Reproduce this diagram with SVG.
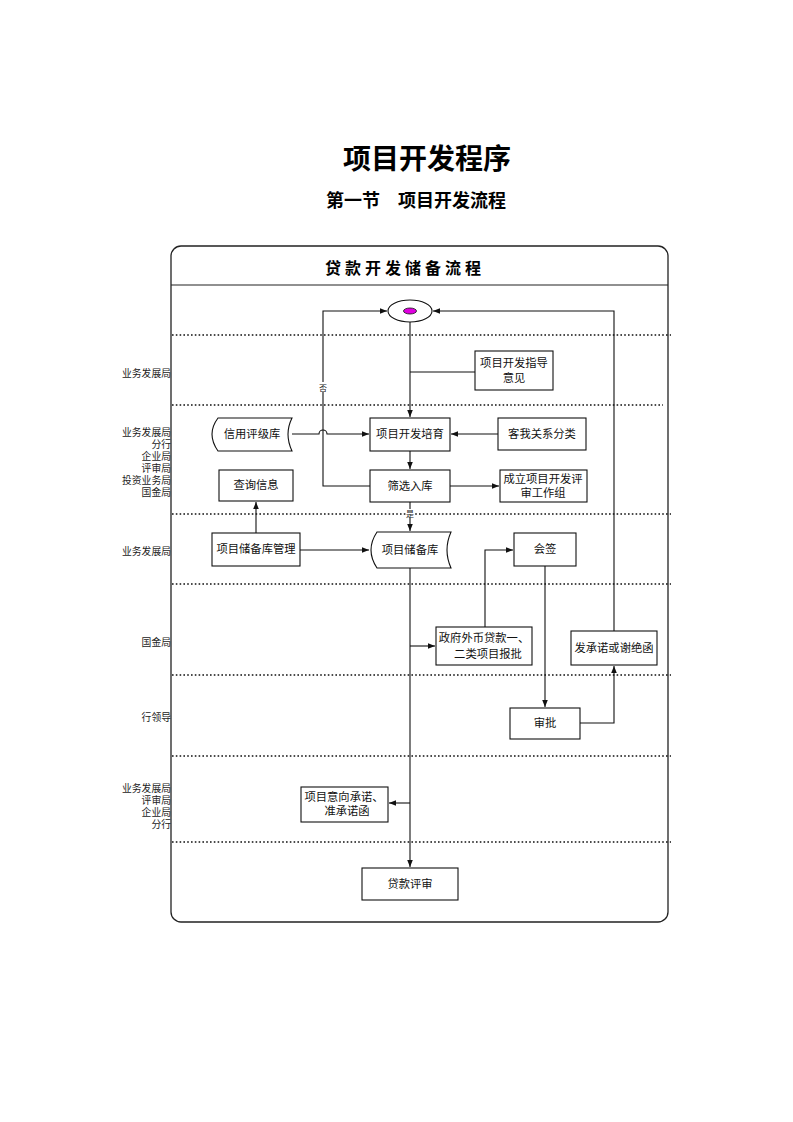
<svg xmlns="http://www.w3.org/2000/svg" width="793" height="1122" viewBox="0 0 793 1122">
<defs>
<style>
.t{font-family:"Liberation Serif","Noto Sans CJK SC",serif;font-size:11.3px;fill:#111;text-anchor:middle}
.lane{font-family:"Liberation Sans","Noto Sans CJK SC",sans-serif;font-size:9.8px;fill:#222;text-anchor:end}
.box{fill:#fff;stroke:#111;stroke-width:1.1}
.ln{fill:none;stroke:#111;stroke-width:1.1}
.dot{stroke:#111;stroke-width:1.6;stroke-dasharray:1.6 2.2;fill:none}
.small{font-family:"Liberation Serif","Noto Sans CJK SC",serif;font-size:8px;fill:#222;text-anchor:middle}
</style>
<marker id="ar" viewBox="0 0 10 10" refX="10" refY="5" markerWidth="7" markerHeight="7" orient="auto" markerUnits="userSpaceOnUse">
<path d="M0,1 L10,5 L0,9 Z" fill="#111"/>
</marker>
</defs>
<rect width="793" height="1122" fill="#fff"/>
<text x="427" y="169" font-family="Liberation Sans,'Noto Sans CJK SC',sans-serif" font-size="28" font-weight="bold" text-anchor="middle" fill="#000">项目开发程序</text>
<text x="416" y="207" font-family="Liberation Sans,'Noto Sans CJK SC',sans-serif" font-size="18" font-weight="bold" text-anchor="middle" fill="#000">第一节　项目开发流程</text>

<g id="frame">
<rect x="171" y="246" width="497" height="676" rx="10" fill="none" stroke="#222" stroke-width="1.3"/>
<line x1="171" y1="285" x2="668" y2="285" stroke="#222" stroke-width="1.2"/>
<text x="405" y="274" font-family="Liberation Sans,'Noto Sans CJK SC',sans-serif" font-size="16" font-weight="bold" letter-spacing="4" text-anchor="middle" fill="#000">贷款开发储备流程</text>
<line class="dot" x1="172" y1="335" x2="671" y2="335"/>
<line class="dot" x1="172" y1="405" x2="663" y2="405"/>
<line class="dot" x1="172" y1="514" x2="671" y2="514"/>
<line class="dot" x1="172" y1="584" x2="671" y2="584"/>
<line class="dot" x1="172" y1="675" x2="671" y2="675"/>
<line class="dot" x1="172" y1="756" x2="671" y2="756"/>
<line class="dot" x1="172" y1="842" x2="671" y2="842"/>
</g>

<g id="lanes">
<text class="lane" x="171" y="377">业务发展局</text>
<text class="lane" x="171" y="436">业务发展局</text>
<text class="lane" x="171" y="448">分行</text>
<text class="lane" x="171" y="460">企业局</text>
<text class="lane" x="171" y="472">评审局</text>
<text class="lane" x="171" y="484">投资业务局</text>
<text class="lane" x="171" y="496">国金局</text>
<text class="lane" x="171" y="555">业务发展局</text>
<text class="lane" x="171" y="646">国金局</text>
<text class="lane" x="171" y="721">行领导</text>
<text class="lane" x="171" y="792">业务发展局</text>
<text class="lane" x="171" y="804">评审局</text>
<text class="lane" x="171" y="816">企业局</text>
<text class="lane" x="171" y="828">分行</text>
</g>

<g id="connectors">
<line class="ln" x1="410" y1="322" x2="410" y2="417" marker-end="url(#ar)"/>
<line class="ln" x1="475" y1="372" x2="410" y2="372"/>
<path class="ln" d="M292,434 H319 A4,4 0 0 1 327,434 H369" marker-end="url(#ar)"/>
<line class="ln" x1="498" y1="434" x2="451" y2="434" marker-end="url(#ar)"/>
<line class="ln" x1="410" y1="451" x2="410" y2="469" marker-end="url(#ar)"/>
<path class="ln" d="M370,486 H323 V311 H387" marker-end="url(#ar)"/>
<line class="ln" x1="450" y1="486" x2="499" y2="486" marker-end="url(#ar)"/>
<line class="ln" x1="410" y1="502" x2="410" y2="531" marker-end="url(#ar)"/>
<line class="ln" x1="256" y1="533" x2="256" y2="502" marker-end="url(#ar)"/>
<line class="ln" x1="300" y1="550" x2="369" y2="550" marker-end="url(#ar)"/>
<line class="ln" x1="410" y1="568" x2="410" y2="867" marker-end="url(#ar)"/>
<line class="ln" x1="410" y1="646" x2="435" y2="646" marker-end="url(#ar)"/>
<line class="ln" x1="410" y1="803" x2="389" y2="803" marker-end="url(#ar)"/>
<path class="ln" d="M485,627 V550 H513" marker-end="url(#ar)"/>
<line class="ln" x1="545" y1="566" x2="545" y2="707" marker-end="url(#ar)"/>
<path class="ln" d="M580,723 H614 V666" marker-end="url(#ar)"/>
<path class="ln" d="M614,631 V311 H433" marker-end="url(#ar)"/>
<rect x="318" y="382" width="10" height="10" fill="#fff"/>
<text class="small" x="323" y="391">否</text>
<rect x="406" y="509" width="8" height="9" fill="#fff"/>
<text class="small" x="410" y="517">是</text>
</g>

<g id="start">
<ellipse cx="410" cy="311" rx="22" ry="11" class="box"/>
<ellipse cx="410" cy="311" rx="6.5" ry="3" fill="#e000e0" stroke="#111" stroke-width="0.8"/>
</g>
<g id="n_guide">
<rect class="box" x="475" y="351" width="78" height="39"/>
<text class="t" x="514" y="367">项目开发指导</text>
<text class="t" x="514" y="382">意见</text>
</g>
<g id="n_credit">
<path class="box" d="M218,418 H292 Q284,434 292,451 H218 Q206,434 218,418 Z"/>
<text class="t" x="252" y="438">信用评级库</text>
</g>
<g id="n_cultivate">
<rect class="box" x="370" y="418" width="80" height="33"/>
<text class="t" x="410" y="438">项目开发培育</text>
</g>
<g id="n_client">
<rect class="box" x="498" y="418" width="88" height="32"/>
<text class="t" x="542" y="438">客我关系分类</text>
</g>
<g id="n_query">
<rect class="box" x="219" y="470" width="74" height="31"/>
<text class="t" x="256" y="489">查询信息</text>
</g>
<g id="n_screen">
<rect class="box" x="370" y="470" width="80" height="32"/>
<text class="t" x="410" y="490">筛选入库</text>
</g>
<g id="n_team">
<rect class="box" x="500" y="470" width="87" height="32"/>
<text class="t" x="543" y="483">成立项目开发评</text>
<text class="t" x="543" y="497">审工作组</text>
</g>
<g id="n_mgmt">
<rect class="box" x="212" y="533" width="88" height="33"/>
<text class="t" x="256" y="553">项目储备库管理</text>
</g>
<g id="n_reserve">
<path class="box" d="M377,532 H451 Q443,550 451,568 H377 Q365,550 377,532 Z"/>
<text class="t" x="410" y="554">项目储备库</text>
</g>
<g id="n_sign">
<rect class="box" x="514" y="533" width="62" height="33"/>
<text class="t" x="545" y="553">会签</text>
</g>
<g id="n_gov">
<rect class="box" x="436" y="627" width="96" height="38"/>
<text class="t" x="484" y="642">政府外币贷款一、</text>
<text class="t" x="488" y="658">二类项目报批</text>
</g>
<g id="n_letter">
<rect class="box" x="571" y="631" width="86" height="34"/>
<text class="t" x="614" y="652">发承诺或谢绝函</text>
</g>
<g id="n_approve">
<rect class="box" x="510" y="708" width="70" height="31"/>
<text class="t" x="545" y="727">审批</text>
</g>
<g id="n_intent">
<rect class="box" x="301" y="787" width="87" height="35"/>
<text class="t" x="344" y="801">项目意向承诺、</text>
<text class="t" x="347" y="815">准承诺函</text>
</g>
<g id="n_review">
<rect class="box" x="362" y="868" width="96" height="32"/>
<text class="t" x="410" y="888">贷款评审</text>
</g>
</svg>
